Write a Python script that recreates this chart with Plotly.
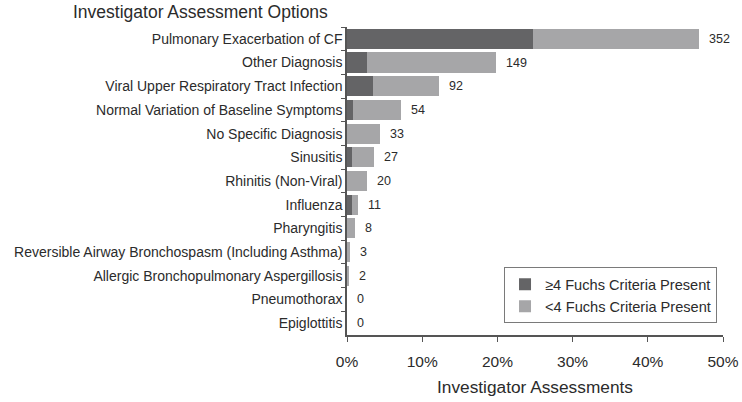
import plotly.graph_objects as go

categories = [
    "Pulmonary Exacerbation of CF",
    "Other Diagnosis",
    "Viral Upper Respiratory Tract Infection",
    "Normal Variation of Baseline Symptoms",
    "No Specific Diagnosis",
    "Sinusitis",
    "Rhinitis (Non-Viral)",
    "Influenza",
    "Pharyngitis",
    "Reversible Airway Bronchospasm (Including Asthma)",
    "Allergic Bronchopulmonary Aspergillosis",
    "Pneumothorax",
    "Epiglottitis",
]
total_counts = [352, 149, 92, 54, 33, 27, 20, 11, 8, 3, 2, 0, 0]
high_fuchs_counts = [186, 20, 26, 6, 0, 5, 0, 5, 0, 0, 0, 0, 0]
total_assessments = 752
x_ticks = [0, 10, 20, 30, 40, 50]

high_pct = [c / total_assessments * 100 for c in high_fuchs_counts]
low_pct = [(t - h) / total_assessments * 100 for t, h in zip(total_counts, high_fuchs_counts)]
total_pct = [t / total_assessments * 100 for t in total_counts]

FONT = "Liberation Sans, Arial, sans-serif"
TXT = "#2b2b2b"

fig = go.Figure()
fig.add_trace(go.Bar(
    y=categories, x=high_pct, orientation="h",
    name="\u22654 Fuchs Criteria Present",
    marker=dict(color="#646466", line=dict(width=0)),
))
fig.add_trace(go.Bar(
    y=categories, x=low_pct, orientation="h",
    name="<4 Fuchs Criteria Present",
    marker=dict(color="#a6a6a8", line=dict(width=0)),
))

for cat, tp, cnt in zip(categories, total_pct, total_counts):
    fig.add_annotation(
        x=tp, y=cat, text=str(cnt), showarrow=False,
        xanchor="left", xshift=8, font=dict(size=12.5, color=TXT, family=FONT),
    )

fig.add_annotation(
    xref="paper", yref="paper", x=-0.045, y=1.049,
    text="Investigator Assessment Options", showarrow=False,
    xanchor="right", yanchor="middle",
    font=dict(size=17.5, color=TXT, family=FONT),
)

fig.update_layout(
    barmode="stack",
    bargap=0.15,
    width=742, height=402,
    margin=dict(l=347, r=19, t=27, b=67, autoexpand=False),
    paper_bgcolor="white", plot_bgcolor="white",
    font=dict(family=FONT, color=TXT),
    legend=dict(
        x=0.4176, y=0.22, xanchor="left", yanchor="top",
        bordercolor="#7a7a7a", borderwidth=1,
        font=dict(size=14.6, color=TXT, family=FONT),
        traceorder="normal",
        tracegroupgap=0,
    ),
    showlegend=True,
)

fig.update_xaxes(
    range=[0, 50], tickvals=x_ticks,
    ticktext=[f"{v}%" for v in x_ticks],
    showgrid=False, zeroline=False, automargin=False,
    showline=True, linecolor="#555555", linewidth=1.5,
    ticks="outside", ticklen=5, tickcolor="#555555",
    ticklabelstandoff=7,
    tickfont=dict(size=15.5, color=TXT, family=FONT),
    title=dict(text="Investigator Assessments", font=dict(size=17.3, color=TXT, family=FONT), standoff=12),
)
fig.update_yaxes(
    autorange="reversed", type="category",
    showgrid=False, zeroline=False, automargin=False,
    showline=True, linecolor="#555555", linewidth=1.5,
    ticks="outside", ticklen=4, tickcolor="#555555", tickson="boundaries",
    tickfont=dict(size=14, color=TXT, family=FONT),
)

fig.write_html(
    "out.html",
    config={"displayModeBar": False},
    post_script="document.body.style.margin='0';document.body.style.overflow='hidden';",
)
